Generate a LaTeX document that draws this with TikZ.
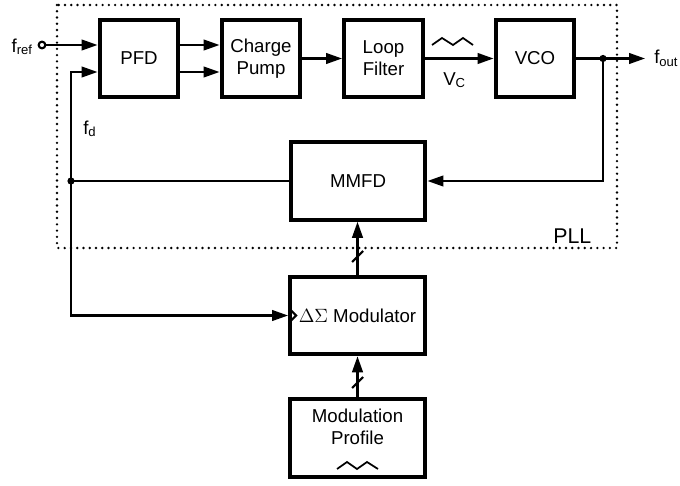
\documentclass[tikz,border=0pt]{standalone}
\usepackage{fontspec}
\setmainfont{Liberation Sans}
\usetikzlibrary{arrows.meta, calc, positioning}

\tikzset{
	blk/.style={draw, line width=3.2pt, minimum width=59pt, minimum height=58pt, align=center, inner sep=0pt},
	wideblk/.style={blk, minimum width=101pt},
	sig/.style={line width=1.6pt},
	arr/.style={sig, -{Triangle[length=12pt,width=8pt]}},
	pllbox/.style={line width=2pt, dash pattern=on 0pt off 4.7pt, line cap=round},
}

\begin{document}
\begin{tikzpicture}[x=0.75pt, y=-0.75pt, font=\fontsize{14}{16.5}\selectfont]
	\useasboundingbox (0,0) rectangle (680,485);

	% the PLL itself
	\draw[pllbox] (57,5) rectangle (617,248);
	\node[anchor=base east, font=\fontsize{16}{19}\selectfont] (pll) at (596,243) {PLL};

	\node[blk] (pfd) at (139,58.5) {PFD};
	\node[blk] (cp) at (261,58.5) {Charge\\Pump};
	\node[blk] (lf) at (383.5,58.5) {Loop\\Filter};
	\node[blk] (vco) at (535,58.5) {VCO};
	\node[wideblk] (mmfd) at (358,181) {MMFD};

	% outside the loop
	\node[wideblk] (dsm) at (357.5,315.5) {$\Delta\Sigma$ Modulator};
	\node[wideblk] (prof) at (357.5,438) {Modulation\\Profile\\\mbox{}};

	% reference input
	\node[circle, draw, sig, inner sep=0pt, minimum size=5pt] (fin) at (42,45) {};
	\node[anchor=base east, inner sep=0pt] (fref) at (33,52) {f\textsubscript{ref}};
	\draw[arr] (fin) -- ($(pfd.west)+(0,-13.5)$);

	% forward path
	\draw[arr] ($(pfd.east)+(0,-13.5)$) -- ($(cp.west)+(0,-13.5)$);
	\draw[arr] ($(pfd.east)+(0,13.5)$) -- ($(cp.west)+(0,13.5)$);
	\draw[arr] (cp) -- (lf);
	\draw[arr] (lf) -- (vco);
	\node[anchor=base west, inner sep=0pt] (vc) at (443,85) {V\textsubscript{C}};
	\draw[line width=1.3pt] (432,45) -- (442,38) -- (453,45) -- (463,38) -- (473,45);

	\coordinate (out) at (603,58.5);
	\coordinate (fo) at (645,58.5);
	\draw[arr] (vco) -- (fo);
	\node[anchor=base west, inner sep=0pt] (fout) at (654,64) {f\textsubscript{out}};
	\fill (out) circle (2.7pt);

	% feedback through the divider
	\draw[arr] (out) |- (mmfd.east);
	\coordinate (fd) at (71,181);
	\draw[sig] (mmfd.west) -- (fd);
	\fill (fd) circle (2.7pt);
	\draw[arr] (fd) |- ($(pfd.west)+(0,13.5)$);
	\node[anchor=base west, inner sep=0pt] (fdl) at (83,134) {f\textsubscript{d}};
	\draw[arr] (fd) |- (dsm.west);
	\draw[sig] ($(dsm.west)+(3,-5)$) -- ++(5,5) -- ++(-5,5);

	% modulator to divider
	\draw[arr] (dsm.north) -- (dsm.north |- mmfd.south);
	\draw[sig] (352,262) -- (363,251);
	\draw[arr] (prof) -- (dsm);
	\draw[sig] (352,388) -- (363,377);
	\draw[line width=1.3pt] (337,469) -- (347,462) -- (357,469) -- (367,462) -- (378,469);
\end{tikzpicture}
\end{document}
